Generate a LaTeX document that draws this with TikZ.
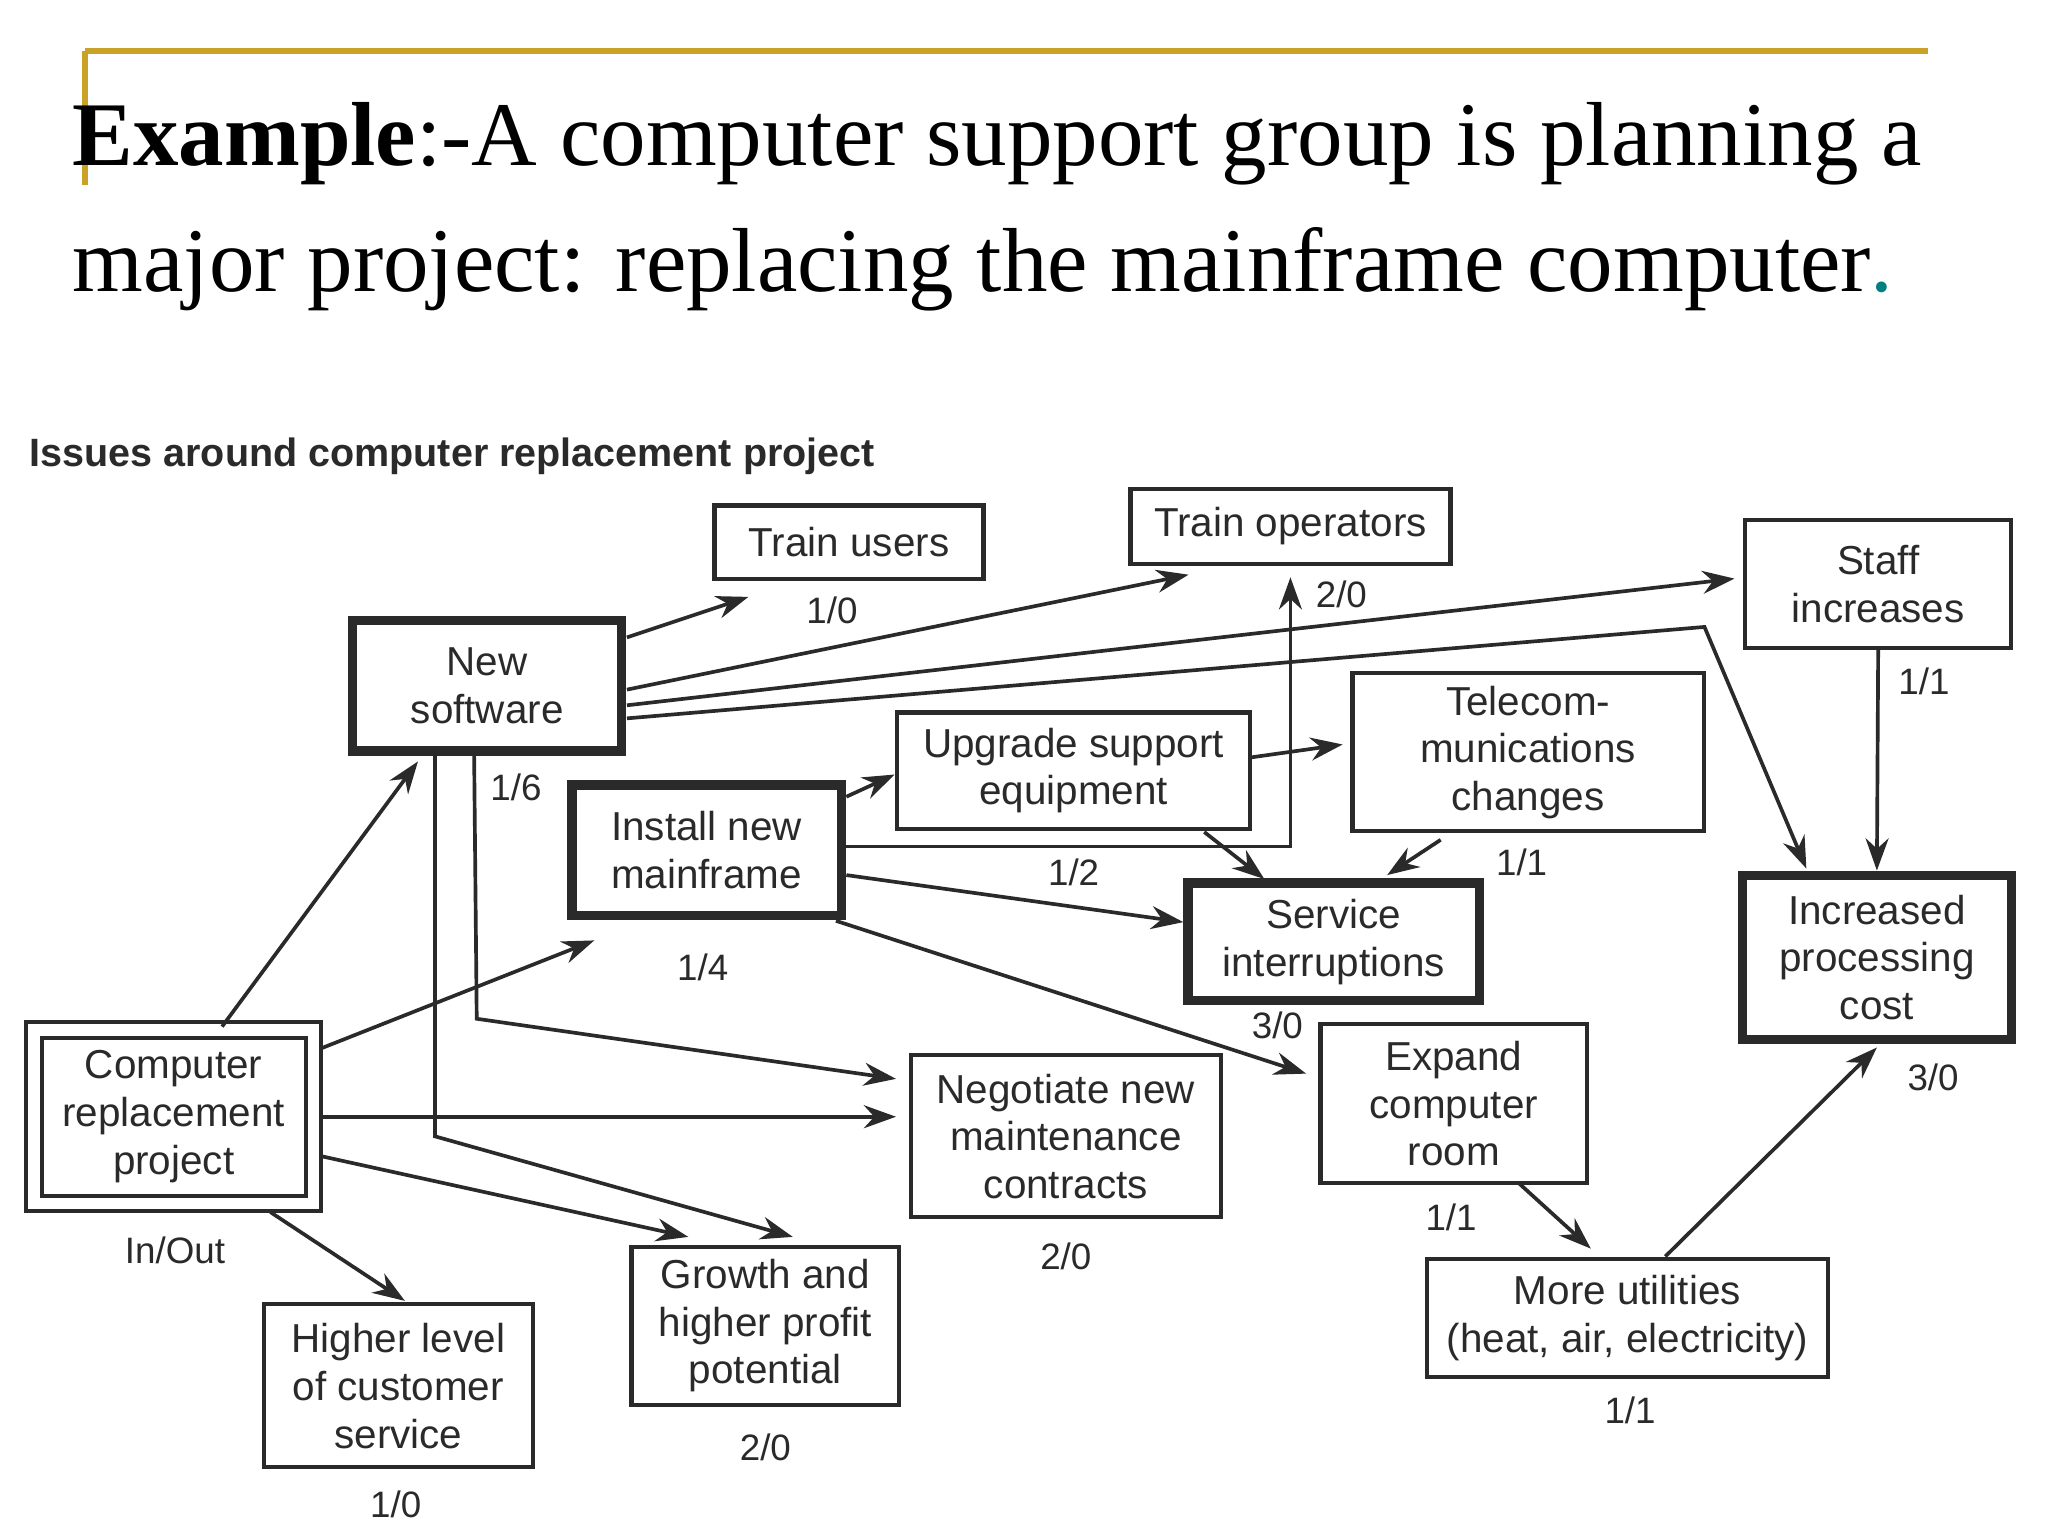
\documentclass[tikz,border=0pt]{standalone}
\usepackage{fontspec}
\setmainfont{Liberation Serif}
\newfontfamily\diag{Liberation Sans}
\usetikzlibrary{arrows.meta}
\definecolor{gold}{HTML}{C9A227}
\definecolor{ink}{HTML}{2A2A2A}
\begin{document}
\begin{tikzpicture}[x=0.01cm,y=-0.01cm,
  box/.style={draw=ink,line width=0.9pt,align=center,inner sep=0pt,font=\diag\fontsize{8.8}{10.4}\selectfont,text=ink},
  thick box/.style={box,line width=2pt},
  sz/.style 2 args={minimum width=#1*0.01cm,minimum height=#2*0.01cm},
  lab/.style={font=\diag\fontsize{8}{10}\selectfont,text=ink},
  arr/.style={draw=ink,line width=0.8pt,-{Stealth[length=7pt,width=5pt]}}]
\useasboundingbox (0,0) rectangle (1568,1176);
\fill[white] (0,0) rectangle (1568,1176);
\draw[gold,line width=1.2pt] (65,39) -- (1476,39);
\draw[gold,line width=1.2pt] (65,39) -- (65,142);
\node[anchor=west,inner sep=0pt,font=\fontsize{19.8}{24}\selectfont] (t1) at (55,110) {\textbf{Example}:-A computer support group is planning a};
\node[anchor=west,inner sep=0pt,font=\fontsize{19.8}{24}\selectfont] (t2) at (55,206) {major project: replacing the mainframe computer\textcolor{teal}{.}};
\node[anchor=west,inner sep=0pt,font=\diag\bfseries\fontsize{8.6}{10}\selectfont,text=ink] (hd) at (22,349) {Issues around computer replacement project};

\node[box,sz={206}{56}] (tu) at (650,415) {Train users};
\node[box,sz={245}{57}] (to) at (988,403) {Train operators};
\node[box,sz={204}{98}] (si) at (1438,447) {Staff\\increases};
\node[thick box,sz={206}{100}] (ns) at (373,525) {New\\software};
\node[box,sz={270}{89}] (us) at (822,590) {Upgrade support\\equipment};
\node[box,sz={269}{121}] (tc) at (1170,576) {Telecom-\\munications\\changes};
\node[thick box,sz={206}{100}] (im) at (541,651) {Install new\\mainframe};
\node[thick box,sz={223}{90}] (sv) at (1021,721) {Service\\interruptions};
\node[thick box,sz={206}{126}] (ip) at (1437,733) {Increased\\processing\\cost};
\node[box,double,double distance=2.5pt,sz={214}{133}] (cr) at (133,855) {Computer\\replacement\\project};
\node[box,sz={237}{124}] (nm) at (816,870) {Negotiate new\\maintenance\\contracts};
\node[box,sz={204}{122}] (ec) at (1113,845) {Expand\\computer\\room};
\node[box,sz={307}{90}] (mu) at (1246,1009) {More utilities\\(heat, air, electricity)};
\node[box,sz={205}{121}] (gr) at (586,1015) {Growth and\\higher profit\\potential};
\node[box,sz={206}{125}] (hl) at (305,1061) {Higher level\\of customer\\service};

\node[lab] (l1) at (637,467) {1/0};
\node[lab] (l2) at (1027,455) {2/0};
\node[lab] (l3) at (1473,522) {1/1};
\node[lab] (l4) at (395,603) {1/6};
\node[lab] (l5) at (822,668) {1/2};
\node[lab] (l6) at (1165,660) {1/1};
\node[lab] (l7) at (538,741) {1/4};
\node[lab] (l8) at (978,785) {3/0};
\node[lab] (l9) at (1480,825) {3/0};
\node[lab] (l10) at (134,957) {In/Out};
\node[lab] (l11) at (816,962) {2/0};
\node[lab] (l12) at (1111,932) {1/1};
\node[lab] (l13) at (1248,1080) {1/1};
\node[lab] (l14) at (586,1108) {2/0};
\node[lab] (l15) at (303,1152) {1/0};

\coordinate (b4) at (1305,480);
\coordinate (b5) at (365,780);
\coordinate (b6) at (333,870);
\coordinate (b7) at (988,648);
\draw[arr] (480,488) -- (573,457);
\draw[arr] (480,528) -- (910,440);
\draw[arr] (480,540) -- (1328,443);
\draw[arr] (480,550) -- (b4) -- (1383,665);
\draw[arr] (363,577) -- (b5) -- (686,826);
\draw[arr] (333,577) -- (b6) -- (607,947);
\draw[arr] (170,786) -- (320,583);
\draw[arr] (245,803) -- (455,720);
\draw[arr] (245,855) -- (686,855);
\draw[arr] (245,885) -- (527,947);
\draw[arr] (207,928) -- (310,996);
\draw[arr] (648,610) -- (685,593);
\draw[arr] (648,648) -- (b7) -- (988,442);
\draw[arr] (648,670) -- (906,706);
\draw[arr] (640,705) -- (1000,822);
\draw[arr] (957,580) -- (1028,570);
\draw[arr] (922,637) -- (968,673);
\draw[arr] (1103,643) -- (1062,670);
\draw[arr] (si.south) -- (ip.north);
\draw[arr] (1163,906) -- (1218,956);
\draw[arr] (1275,962) -- (1437,802);
\end{tikzpicture}
\end{document}
